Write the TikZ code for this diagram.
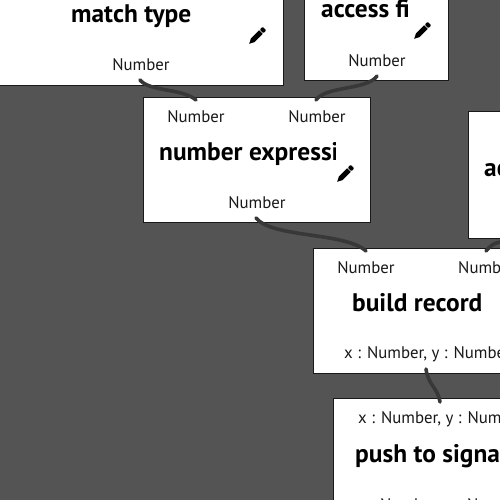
\documentclass[tikz,border=0pt]{standalone}
\usepackage{fontspec}
\setmainfont{PT Sans}
\tikzset{
  box/.style={fill=white,draw=black!90,line width=0.7pt},
  port/.style={font=\fontsize{16.8}{18}\selectfont,text=black!90,inner sep=0pt,anchor=center},
  title/.style={font=\fontsize{25.4}{28}\bfseries\selectfont,text=black,inner sep=0pt,anchor=base west},
  wire/.style={draw=black!78,line width=3.6pt,line cap=round},
}
\newcommand{\pencil}[1]{%
  \begin{scope}[shift={(#1)},rotate=-45]
    \fill[black] (-2.6,-5.5) -- (2.6,-5.5) -- (2.6,6) -- (0,11) -- (-2.6,6) -- cycle;
    \fill[black,rounded corners=1pt] (-2.6,-10.5) rectangle (2.6,-6.5);
  \end{scope}}
\begin{document}
\begin{tikzpicture}[x=1pt,y=-1pt]
\useasboundingbox (0,0) rectangle (500,500);
\fill[black!67] (0,0) rectangle (500,500);
\begin{scope}
\clip (0,0) rectangle (500,500);
\draw[box] (-5,-5) rectangle (283,85);
\draw[box] (304,-5) rectangle (448,80);
\draw[box] (143,97) rectangle (370,222);
\draw[box] (468,111) rectangle (505,238);
\draw[box] (313,248) rectangle (505,373);
\draw[box] (333,398) rectangle (505,505);
\node[title] (t1) at (71,23) {match type};
\begin{scope}
\clip (304,-5) rectangle (409.5,80);
\node[title] (t2) at (321,18) {access field};
\end{scope}
\begin{scope}
\clip (143,97) rectangle (335,222);
\node[title] (t3) at (159,160) {number expression};
\end{scope}
\node[title] (t4) at (484,176) {ac};
\node[title] (t5) at (352,311) {build record};
\node[title] (t6) at (355,462) {push to signal};
\node[port] (p1) at (141,65) {Number};
\node[port] (p2) at (377,61) {Number};
\node[port] (p3) at (196,117) {Number};
\node[port] (p4) at (317,117) {Number};
\node[port] (p5) at (257,203) {Number};
\node[port] (p6) at (366,268) {Number};
\node[port,anchor=west] (p7) at (458,268) {Number};
\node[port,anchor=west] (p8) at (344,354) {x : Number, y : Number};
\node[port,anchor=west] (p9) at (358,419) {x : Number, y : Number};
\node[port,anchor=west] (p10) at (380,505) {Number};
\node[port,anchor=west] (p11) at (467,505) {Number};
\pencil{257,36}
\pencil{422,31}
\pencil{345,174}
\coordinate (a1) at (140,80);
\coordinate (b1) at (196,100);
\coordinate (a2) at (377,76);
\coordinate (b2) at (316,100);
\coordinate (a3) at (256,218);
\coordinate (b3) at (366,251);
\coordinate (a4) at (500,242);
\coordinate (b4) at (486,251);
\coordinate (a5) at (426,369);
\coordinate (b5) at (440,402);
\draw[wire] (a1) .. controls (150,92) and (182,88) .. (b1);
\draw[wire] (a2) .. controls (368,90) and (325,86) .. (b2);
\draw[wire] (a3) .. controls (272,238) and (345,232) .. (b3);
\draw[wire] (a4) .. controls (494,243) and (490,246) .. (b4);
\draw[wire] (a5) .. controls (428,385) and (438,388) .. (b5);
\end{scope}
\end{tikzpicture}
\end{document}
